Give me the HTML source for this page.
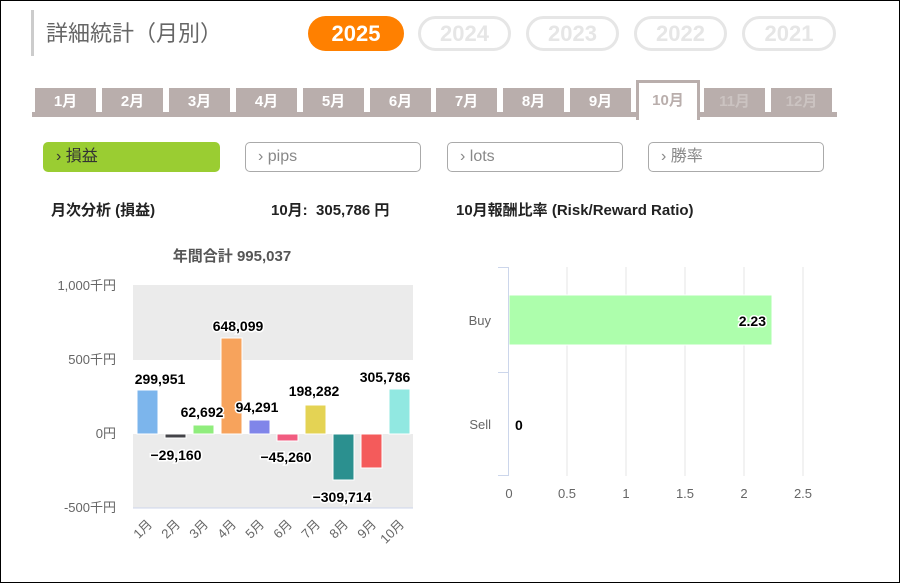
<!DOCTYPE html><html><head><meta charset="utf-8"><style>
body{margin:0;width:900px;height:583px;overflow:hidden;background:#fff;font-family:"Liberation Sans","Noto Sans CJK JP",sans-serif}
.frame{position:absolute;left:0;top:0;width:898px;height:581px;border:1px solid #000}
.abs{position:absolute}
.pill{position:absolute;top:16px;height:35px;border-radius:18px;font-weight:bold;font-size:22px;text-align:center;line-height:35px;box-sizing:border-box}
.tab{position:absolute;top:88px;width:61px;height:26px;background:#b9aeac;color:#fff;font-weight:bold;font-size:15px;text-align:center;line-height:28px}
.btn{position:absolute;top:142px;height:30px;box-sizing:border-box;border:1.5px solid #aaa;border-radius:5px;font-size:16px;color:#888;line-height:27px;padding-left:12px}
.h{position:absolute;top:199px;font-size:15px;font-weight:bold;color:#222}
</style></head><body><div class="frame"></div>
<div class="abs" style="left:31px;top:10px;width:3px;height:46px;background:#ccc"></div>
<div class="abs" style="left:46px;top:16px;font-size:22px;color:#666">詳細統計（月別）</div>
<div class="pill" style="left:308px;width:96px;background:#ff8000;color:#fff">2025</div>
<div class="pill" style="left:418px;width:93px;border:3px solid #e6e6e6;color:#e6e6e6;line-height:29px">2024</div>
<div class="pill" style="left:526px;width:93px;border:3px solid #e6e6e6;color:#e6e6e6;line-height:29px">2023</div>
<div class="pill" style="left:634px;width:93px;border:3px solid #e6e6e6;color:#e6e6e6;line-height:29px">2022</div>
<div class="pill" style="left:742px;width:94px;border:3px solid #e6e6e6;color:#e6e6e6;line-height:29px">2021</div>
<div class="abs" style="left:32px;top:112px;width:805px;height:5px;background:#b9aeac"></div>
<div class="tab" style="left:35px">1月</div><div class="tab" style="left:102px">2月</div><div class="tab" style="left:169px">3月</div><div class="tab" style="left:236px">4月</div><div class="tab" style="left:303px">5月</div><div class="tab" style="left:370px">6月</div><div class="tab" style="left:436px">7月</div><div class="tab" style="left:503px">8月</div><div class="tab" style="left:570px">9月</div>
<div class="abs" style="left:636px;top:80px;width:58px;height:37px;border:3px solid #b9aeac;border-bottom:none;background:#fff;color:#b9aeac;font-weight:bold;font-size:15px;text-align:center;line-height:35px">10月</div>
<div class="tab" style="left:704px;color:#cbc3c1">11月</div><div class="tab" style="left:771px;color:#cbc3c1">12月</div>
<div class="btn" style="left:43px;width:177px;background:#9acd32;border-color:#9acd32;color:#333">› 損益</div>
<div class="btn" style="left:245px;width:176px">› pips</div>
<div class="btn" style="left:447px;width:176px">› lots</div>
<div class="btn" style="left:648px;width:176px">› 勝率</div>
<div class="h" style="left:51px">月次分析 (損益)</div>
<div class="h" style="left:271px">10月:&nbsp; 305,786 円</div>
<div class="h" style="left:456px">10月報酬比率 (Risk/Reward Ratio)</div>
<svg class="abs" style="left:0;top:0" width="900" height="583" font-family="Liberation Sans, Noto Sans CJK JP, sans-serif">
<text x="232" y="261" text-anchor="middle" font-size="15" font-weight="bold" fill="#555">年間合計 995,037</text>
<rect x="133" y="285" width="280" height="75" fill="#ebebeb"/>
<rect x="133" y="434" width="280" height="74" fill="#ebebeb"/>
<line x1="133" y1="508" x2="413" y2="508" stroke="#ccd6eb"/>
<g font-size="13" fill="#666" text-anchor="end"><text x="116" y="290">1,000千円</text><text x="116" y="364">500千円</text><text x="116" y="438">0円</text><text x="116" y="512">-500千円</text></g>
<g stroke="#fff" stroke-width="1">
<rect x="137" y="390" width="21" height="44" fill="#7cb5ec"/>
<rect x="165" y="434" width="21" height="4" fill="#434348"/>
<rect x="193" y="425" width="21" height="9" fill="#90ed7d"/>
<rect x="221" y="338" width="21" height="96" fill="#f7a35c"/>
<rect x="249" y="420" width="21" height="14" fill="#8085e9"/>
<rect x="277" y="434" width="21" height="7" fill="#f15c80"/>
<rect x="305" y="405" width="21" height="29" fill="#e4d354"/>
<rect x="333" y="434" width="21" height="46" fill="#2b908f"/>
<rect x="361" y="434" width="21" height="34" fill="#f45b5b"/>
<rect x="389" y="389" width="21" height="45" fill="#91e8e1"/>
</g>
<g font-size="14" font-weight="bold" fill="#000" text-anchor="middle" stroke="#fff" stroke-width="3" paint-order="stroke">
<text x="160" y="384">299,951</text><text x="176" y="460">−29,160</text><text x="202" y="417">62,692</text><text x="238" y="331">648,099</text><text x="257" y="412">94,291</text><text x="286" y="462">−45,260</text><text x="314" y="396">198,282</text><text x="342" y="502">−309,714</text><text x="385" y="382">305,786</text>
</g>
<g font-size="13" fill="#666" text-anchor="end">
<text transform="translate(153,525) rotate(-45)">1月</text><text transform="translate(181,525) rotate(-45)">2月</text><text transform="translate(209,525) rotate(-45)">3月</text><text transform="translate(237,525) rotate(-45)">4月</text><text transform="translate(265,525) rotate(-45)">5月</text><text transform="translate(293,525) rotate(-45)">6月</text><text transform="translate(321,525) rotate(-45)">7月</text><text transform="translate(349,525) rotate(-45)">8月</text><text transform="translate(377,525) rotate(-45)">9月</text><text transform="translate(405,525) rotate(-45)">10月</text>
</g>
<g stroke="#e6e6e6"><line x1="567" y1="267" x2="567" y2="476"/><line x1="626" y1="267" x2="626" y2="476"/><line x1="685" y1="267" x2="685" y2="476"/><line x1="744" y1="267" x2="744" y2="476"/><line x1="803" y1="267" x2="803" y2="476"/></g>
<rect x="509" y="295" width="263" height="50" fill="#adfeac" stroke="#fff"/>
<g stroke="#ccd6eb"><line x1="508.5" y1="267" x2="508.5" y2="476"/><line x1="498" y1="267.5" x2="508" y2="267.5"/><line x1="498" y1="372.5" x2="508" y2="372.5"/><line x1="498" y1="475.5" x2="508" y2="475.5"/></g>
<g font-size="13" fill="#666" text-anchor="end"><text x="491" y="325">Buy</text><text x="491" y="429">Sell</text></g>
<g font-size="13" fill="#666" text-anchor="middle"><text x="509" y="498">0</text><text x="567" y="498">0.5</text><text x="626" y="498">1</text><text x="685" y="498">1.5</text><text x="744" y="498">2</text><text x="803" y="498">2.5</text></g>
<g font-size="14" font-weight="bold" fill="#000" stroke="#fff" stroke-width="3" paint-order="stroke"><text x="766" y="326" text-anchor="end">2.23</text><text x="515" y="430">0</text></g>
</svg>
</body></html>
